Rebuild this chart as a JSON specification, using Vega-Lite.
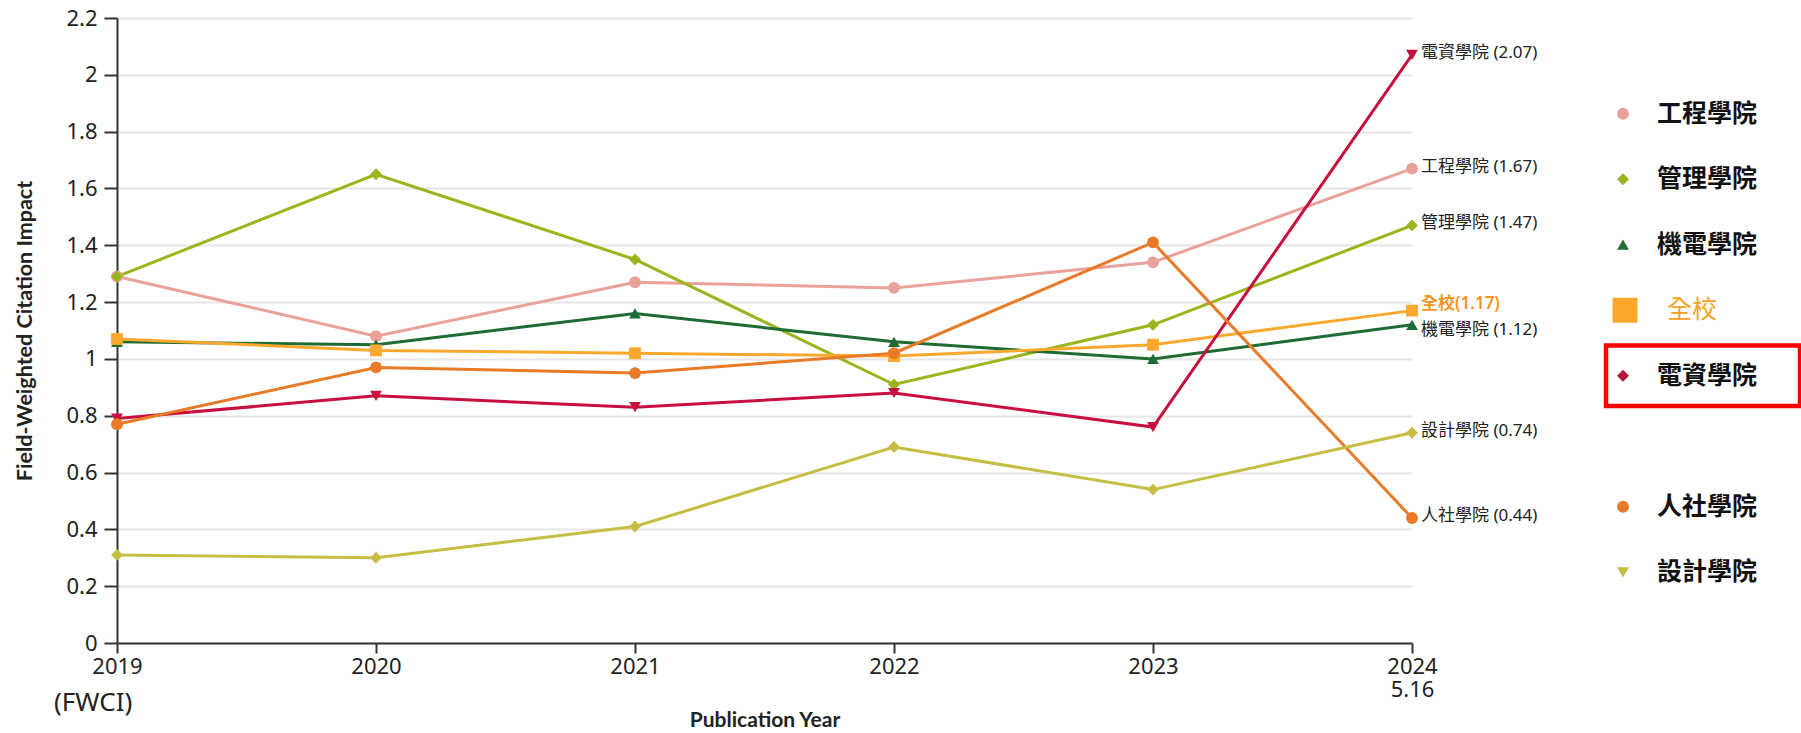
{
  "$schema": "https://vega.github.io/schema/vega-lite/v6.json",
  "padding": {"left": 14, "top": 7, "right": 0, "bottom": 0},
  "background": "white",
  "config": {"view": {"stroke": null}, "font": "Noto Sans"},
  "resolve": {"scale": {"color": "independent", "shape": "independent"}},
  "datasets": {
    "fwci": [
      {"college": "工程學院", "year": 2019, "fwci": 1.29},
      {"college": "工程學院", "year": 2020, "fwci": 1.08},
      {"college": "工程學院", "year": 2021, "fwci": 1.27},
      {"college": "工程學院", "year": 2022, "fwci": 1.25},
      {"college": "工程學院", "year": 2023, "fwci": 1.34},
      {"college": "工程學院", "year": 2024, "fwci": 1.67, "label": "工程學院 (1.67)"},
      {"college": "管理學院", "year": 2019, "fwci": 1.29},
      {"college": "管理學院", "year": 2020, "fwci": 1.65},
      {"college": "管理學院", "year": 2021, "fwci": 1.35},
      {"college": "管理學院", "year": 2022, "fwci": 0.91},
      {"college": "管理學院", "year": 2023, "fwci": 1.12},
      {"college": "管理學院", "year": 2024, "fwci": 1.47, "label": "管理學院 (1.47)"},
      {"college": "機電學院", "year": 2019, "fwci": 1.06},
      {"college": "機電學院", "year": 2020, "fwci": 1.05},
      {"college": "機電學院", "year": 2021, "fwci": 1.16},
      {"college": "機電學院", "year": 2022, "fwci": 1.06},
      {"college": "機電學院", "year": 2023, "fwci": 1.0},
      {"college": "機電學院", "year": 2024, "fwci": 1.12, "label": "機電學院 (1.12)"},
      {"college": "全校", "year": 2019, "fwci": 1.07},
      {"college": "全校", "year": 2020, "fwci": 1.03},
      {"college": "全校", "year": 2021, "fwci": 1.02},
      {"college": "全校", "year": 2022, "fwci": 1.01},
      {"college": "全校", "year": 2023, "fwci": 1.05},
      {"college": "全校", "year": 2024, "fwci": 1.17, "label": "全校(1.17)"},
      {"college": "電資學院", "year": 2019, "fwci": 0.79},
      {"college": "電資學院", "year": 2020, "fwci": 0.87},
      {"college": "電資學院", "year": 2021, "fwci": 0.83},
      {"college": "電資學院", "year": 2022, "fwci": 0.88},
      {"college": "電資學院", "year": 2023, "fwci": 0.76},
      {"college": "電資學院", "year": 2024, "fwci": 2.07, "label": "電資學院 (2.07)"},
      {"college": "人社學院", "year": 2019, "fwci": 0.77},
      {"college": "人社學院", "year": 2020, "fwci": 0.97},
      {"college": "人社學院", "year": 2021, "fwci": 0.95},
      {"college": "人社學院", "year": 2022, "fwci": 1.02},
      {"college": "人社學院", "year": 2023, "fwci": 1.41},
      {"college": "人社學院", "year": 2024, "fwci": 0.44, "label": "人社學院 (0.44)"},
      {"college": "設計學院", "year": 2019, "fwci": 0.31},
      {"college": "設計學院", "year": 2020, "fwci": 0.3},
      {"college": "設計學院", "year": 2021, "fwci": 0.41},
      {"college": "設計學院", "year": 2022, "fwci": 0.69},
      {"college": "設計學院", "year": 2023, "fwci": 0.54},
      {"college": "設計學院", "year": 2024, "fwci": 0.74, "label": "設計學院 (0.74)"}
    ],
    "legend": [
      {"name": "工程學院", "highlight": false},
      {"name": "管理學院", "highlight": false},
      {"name": "機電學院", "highlight": false},
      {"name": "全校", "highlight": false},
      {"name": "電資學院", "highlight": true},
      {"name": "人社學院", "highlight": false},
      {"name": "設計學院", "highlight": false}
    ]
  },
  "bounds": "flush",
  "spacing": 194,
  "hconcat": [
    {
      "width": 1295,
      "height": 625,
      "title": {"text": "(FWCI)", "orient": "bottom", "anchor": "start", "frame": "group", "font": "Noto Sans", "fontSize": 26, "fontWeight": "normal", "color": "#222222", "offset": 0, "dx": -63, "dy": -40},
      "data": {"name": "fwci"},
      "encoding": {
        "x": {
          "field": "year", "type": "quantitative",
          "scale": {"domain": [2019, 2024], "nice": false, "zero": false},
          "axis": {
            "title": "Publication Year", "titleFont": "Lato", "titleFontSize": 21, "titleFontWeight": "bold", "titleColor": "#222222", "titlePadding": 9,
            "values": [2019, 2020, 2021, 2022, 2023, 2024], "format": "d",
            "labelExpr": "datum.value == 2024 ? ['2024', '5.16'] : datum.label",
            "labelFont": "Noto Sans", "labelFontSize": 22, "labelColor": "#222222", "labelLineHeight": 23, "labelPadding": 3,
            "labelFlush": false, "labelOverlap": false,
            "tickSize": 10, "tickColor": "#333333", "tickWidth": 2,
            "domainColor": "#333333", "domainWidth": 2, "grid": false
          }
        },
        "y": {
          "field": "fwci", "type": "quantitative",
          "scale": {"domain": [0, 2.2], "nice": false},
          "axis": {
            "title": "Field-Weighted Citation Impact", "titleFont": "Lato", "titleFontSize": 21.5, "titleFontWeight": "bold", "titleColor": "#222222", "titlePadding": 29,
            "values": [0, 0.2, 0.4, 0.6, 0.8, 1, 1.2, 1.4, 1.6, 1.8, 2, 2.2], "format": "~g",
            "labelFont": "Noto Sans", "labelFontSize": 22, "labelColor": "#222222", "labelPadding": 7,
            "labelFlush": false, "labelOverlap": false,
            "tickSize": 13, "tickColor": "#333333", "tickWidth": 2,
            "domainColor": "#333333", "domainWidth": 2,
            "gridColor": "#e6e6e6", "gridWidth": 2
          }
        },
        "color": {
          "field": "college", "type": "nominal", "legend": null,
          "scale": {
            "domain": ["工程學院", "管理學院", "機電學院", "全校", "電資學院", "人社學院", "設計學院"],
            "range": ["#E9A19A", "#9BB51D", "#1E6B34", "#FBA92E", "#C8103F", "#E97A27", "#C6BE43"]
          }
        }
      },
      "layer": [
        {"mark": {"type": "line", "strokeWidth": 3}},
        {
          "mark": {"type": "point", "filled": true, "size": 140, "opacity": 1},
          "encoding": {
            "shape": {
              "field": "college", "type": "nominal", "legend": null,
              "scale": {
                "domain": ["工程學院", "管理學院", "機電學院", "全校", "電資學院", "人社學院", "設計學院"],
                "range": ["circle", "diamond", "triangle-up", "square", "triangle-down", "circle", "diamond"]
              }
            }
          }
        },
        {
          "transform": [{"filter": "datum.label && datum.college != '全校' && datum.college != '機電學院'"}],
          "mark": {"type": "text", "align": "left", "baseline": "middle", "dx": 9, "dy": -2, "font": "Noto Sans, Noto Sans CJK TC", "fontSize": 17},
          "encoding": {"text": {"field": "label"}, "color": {"value": "#222222"}}
        },
        {
          "transform": [{"filter": "datum.label && datum.college == '機電學院'"}],
          "mark": {"type": "text", "align": "left", "baseline": "middle", "dx": 9, "dy": 5, "font": "Noto Sans, Noto Sans CJK TC", "fontSize": 17},
          "encoding": {"text": {"field": "label"}, "color": {"value": "#222222"}}
        },
        {
          "transform": [{"filter": "datum.label && datum.college == '全校'"}],
          "mark": {"type": "text", "align": "left", "baseline": "middle", "dx": 9, "dy": -7, "font": "Noto Sans, Noto Sans CJK TC", "fontSize": 17, "fontWeight": 600},
          "encoding": {"text": {"field": "label"}, "color": {"value": "#F7941D"}}
        }
      ]
    },
    {
      "width": 194,
      "height": 650,
      "data": {"name": "legend"},
      "encoding": {
        "y": {
          "field": "name", "type": "nominal", "axis": null,
          "scale": {
            "type": "band",
            "domain": ["工程學院", "管理學院", "機電學院", "全校", "電資學院", " ", "人社學院", "設計學院"],
            "paddingInner": 0.078, "paddingOuter": 1.3
          }
        }
      },
      "layer": [
        {
          "transform": [{"filter": "datum.highlight"}],
          "mark": {"type": "rect", "fill": "transparent", "stroke": "#FF0000", "strokeWidth": 4.5}
        },
        {
          "transform": [{"filter": "datum.name != '全校'"}],
          "mark": {"type": "point", "filled": true, "size": 140, "opacity": 1, "xOffset": -80},
          "encoding": {
            "color": {
              "field": "name", "type": "nominal", "legend": null,
              "scale": {
                "domain": ["工程學院", "管理學院", "機電學院", "電資學院", "人社學院", "設計學院"],
                "range": ["#E8A09A", "#9BB21D", "#1E6B34", "#B8123E", "#E97A27", "#C4BC3D"]
              }
            },
            "shape": {
              "field": "name", "type": "nominal", "legend": null,
              "scale": {
                "domain": ["工程學院", "管理學院", "機電學院", "電資學院", "人社學院", "設計學院"],
                "range": ["circle", "diamond", "triangle-up", "diamond", "circle", "triangle-down"]
              }
            }
          }
        },
        {
          "transform": [{"filter": "datum.name == '全校'"}],
          "mark": {"type": "point", "shape": "square", "filled": true, "size": 625, "opacity": 1, "color": "#FBA72B", "xOffset": -78}
        },
        {
          "transform": [{"filter": "datum.name != '全校'"}],
          "mark": {"type": "text", "align": "left", "baseline": "middle", "dx": -46, "font": "Noto Sans CJK TC", "fontSize": 25, "fontWeight": "bold", "color": "#111111"},
          "encoding": {"text": {"field": "name"}}
        },
        {
          "transform": [{"filter": "datum.name == '全校'"}],
          "mark": {"type": "text", "align": "left", "baseline": "middle", "dx": -36, "font": "Noto Sans CJK TC", "fontSize": 25, "fontWeight": "normal", "color": "#F7A01C"},
          "encoding": {"text": {"field": "name"}}
        }
      ]
    }
  ]
}
